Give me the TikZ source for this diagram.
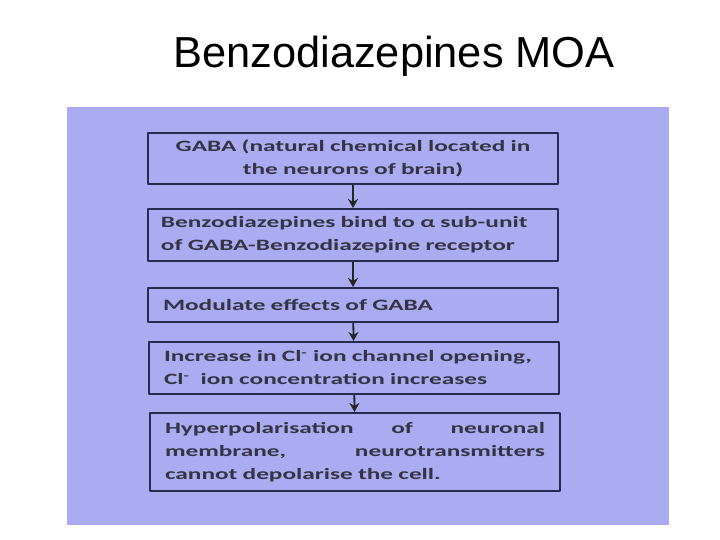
\documentclass[tikz,border=0pt]{standalone}
\usepackage{fontspec}
\setmainfont{Liberation Sans}
\newfontfamily\titlefont{Liberation Sans}
\newfontfamily\boxfont[FakeStretch=1.6]{Carlito}
\usetikzlibrary{arrows.meta}
\definecolor{panel}{RGB}{171,171,242}
\definecolor{boxline}{RGB}{40,42,82}
\definecolor{boxtext}{RGB}{52,52,68}
\begin{document}
\begin{tikzpicture}[x=0.5pt,y=-0.5pt,line join=round,>={Stealth[length=4.5pt,width=5pt]}]
	\tikzset{stage/.style={draw=boxline,line width=1pt,minimum width=205pt,text width=190pt,inner xsep=7.5pt,inner ysep=0pt,align=left,text=boxtext,font=\boxfont\bfseries\fontsize{7.9}{11.5}\selectfont},
		link/.style={->,line width=0.9pt,black!85}}
	\useasboundingbox (0,0) rectangle (720,540);
	\fill[white] (0,0) rectangle (720,540);
	\fill[panel] (67,107) rectangle (669,525);
	\node[font=\titlefont\fontsize{21.7}{24}\selectfont,anchor=base,inner sep=0pt] (title) at (394,68) {Benzodiazepines MOA};
	% the five stages
	\node[stage,align=center,minimum height=25.5pt] (gaba) at (353,158.5) {GABA (natural chemical located in\\ the neurons of brain)};
	\node[stage,minimum height=26pt,inner xsep=6.5pt,text width=192pt] (bind) at (353,235) {Benzodiazepines bind to α sub-unit\\ of GABA-Benzodiazepine receptor};
	\node[stage,minimum height=17pt] (modulate) at (353,305) {Modulate effects of GABA};
	\node[stage,minimum height=26pt] (channel) at (354,368) {Increase in Cl\textsuperscript{-} ion channel opening,\\ Cl\textsuperscript{-}\ \ ion concentration increases};
	\node[stage,minimum height=39pt] (hyper) at (355,452) {Hyperpolarisation\hfill of\hfill neuronal\\ membrane,\hfill neurotransmitters\\ cannot depolarise the cell.};
	\draw[link] (gaba) -- (bind);
	\draw[link] (bind) -- (modulate);
	\draw[link] (modulate) -- (channel);
	\draw[link] (channel) -- (hyper);
\end{tikzpicture}
\end{document}
